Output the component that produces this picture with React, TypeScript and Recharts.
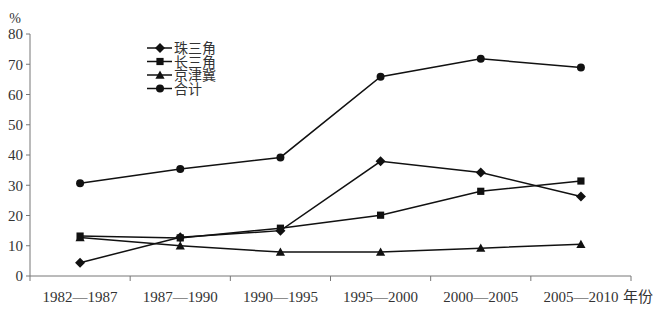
import React from 'react';
import { LineChart, Line, XAxis, YAxis } from 'recharts';

const categories = ['1982—1987', '1987—1990', '1990—1995', '1995—2000', '2000—2005', '2005—2010'];
const zhuSanJiao = [4.4, 12.8, 15.0, 37.9, 34.2, 26.3];
const changSanJiao = [13.2, 12.6, 15.8, 20.1, 28.0, 31.4];
const jingJinJi = [12.7, 10.0, 7.9, 7.9, 9.2, 10.5];
const heJi = [30.7, 35.4, 39.2, 65.9, 71.8, 68.9];
const yTicks = [0, 10, 20, 30, 40, 50, 60, 70, 80];
const xUnit = '年份';
const yUnit = '%';

const seriesNames = ['珠三角', '长三角', '京津冀', '合计'];
const seriesKeys = ['zhu', 'chang', 'jing', 'he'];
const seriesShapes = ['diamond', 'square', 'triangle', 'circle'];

const data = categories.map((c, i) => ({
  x: i + 0.5,
  cat: c,
  zhu: zhuSanJiao[i],
  chang: changSanJiao[i],
  jing: jingJinJi[i],
  he: heJi[i],
}));

const W = 667;
const H = 315;
const margin = { top: 34, right: 36, bottom: 9, left: 0 };
const yAxisWidth = 30;
const halfBand = (W - margin.left - margin.right - yAxisWidth) / categories.length / 2;

const SERIF = "'Liberation Serif', 'Noto Sans CJK SC', serif";
const INK = '#111';
const TEXT = '#333';
const AXIS = '#777';

function Marker({ shape, cx, cy }: { shape: string; cx: number; cy: number }) {
  if (cx == null || cy == null) return null;
  if (shape === 'diamond') {
    const s = 5;
    return <polygon points={`${cx},${cy - s} ${cx + s},${cy} ${cx},${cy + s} ${cx - s},${cy}`} fill={INK} />;
  }
  if (shape === 'square') {
    const s = 3.6;
    return <rect x={cx - s} y={cy - s} width={2 * s} height={2 * s} fill={INK} />;
  }
  if (shape === 'triangle') {
    const s = 4.6;
    return <polygon points={`${cx},${cy - s} ${cx + s},${cy + s * 0.8} ${cx - s},${cy + s * 0.8}`} fill={INK} />;
  }
  return <circle cx={cx} cy={cy} r={4} fill={INK} />;
}

const makeDot = (shape: string) => (props: any) => (
  <Marker key={`${shape}-${props.index}`} shape={shape} cx={props.cx} cy={props.cy} />
);

function XTick(props: any) {
  const { x, y, payload } = props;
  const v = payload.value;
  if (v < categories.length) {
    return (
      <text x={x + halfBand} y={y + 21} textAnchor="middle" fontSize={15} fontFamily={SERIF} fill={TEXT}>
        {categories[v]}
      </text>
    );
  }
  return (
    <text x={x - 8} y={y + 21} textAnchor="start" fontSize={15} fontFamily={SERIF} fill={TEXT}>
      {xUnit}
    </text>
  );
}

function LegendBox() {
  return (
    <svg width={90} height={64} style={{ position: 'absolute', left: 145, top: 40, overflow: 'visible' }}>
      {seriesNames.map((n, i) => {
        const y = 8 + i * 13.5;
        return (
          <g key={n}>
            <line x1={2} x2={27} y1={y} y2={y} stroke={INK} strokeWidth={1.5} />
            <Marker shape={seriesShapes[i]} cx={15} cy={y} />
            <text x={29} y={y + 5} fontSize={14} fontFamily={SERIF} fill={TEXT}>
              {n}
            </text>
          </g>
        );
      })}
    </svg>
  );
}

export default function App() {
  return (
    <div style={{ position: 'absolute', left: 0, top: 0, width: W, height: H, background: '#fff' }}>
      <LineChart width={W} height={H} data={data} margin={margin}>
        <XAxis
          dataKey="x"
          type="number"
          domain={[0, categories.length]}
          ticks={categories.map((_, i) => i).concat([categories.length])}
          tick={<XTick />}
          tickSize={5}
          tickMargin={0}
          height={30}
          stroke={AXIS}
          interval={0}
          allowDecimals={false}
        />
        <YAxis
          domain={[0, 80]}
          ticks={yTicks}
          width={yAxisWidth}
          tickSize={4}
          tickMargin={3}
          stroke={AXIS}
          tick={{ fontSize: 15, fontFamily: SERIF, fill: TEXT }}
          interval={0}
          label={{ value: yUnit, position: 'top', offset: 11, fontSize: 14, fontFamily: SERIF, fill: TEXT }}
        />
        {seriesKeys.map((k, i) => (
          <Line
            key={k}
            dataKey={k}
            name={seriesNames[i]}
            stroke={INK}
            strokeWidth={1.5}
            dot={makeDot(seriesShapes[i])}
            activeDot={false}
            isAnimationActive={false}
          />
        ))}
      </LineChart>
      <LegendBox />
    </div>
  );
}
